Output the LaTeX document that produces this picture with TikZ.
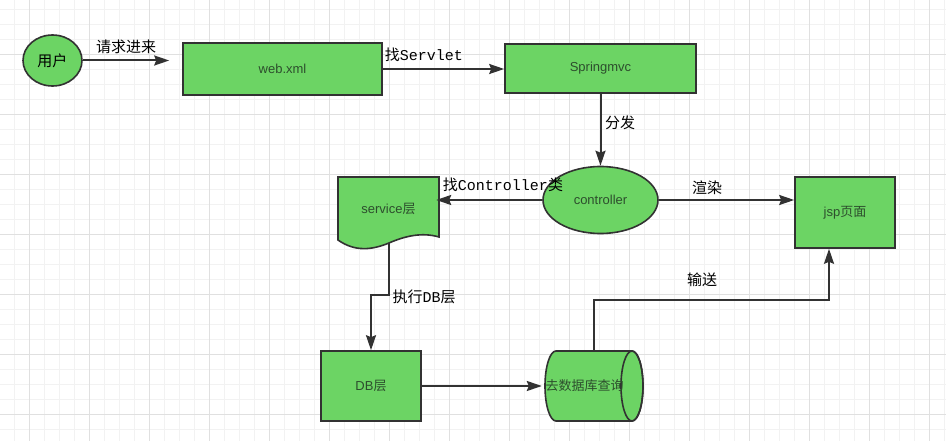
\documentclass[tikz,border=0pt]{standalone}
\usepackage{fontspec}
\setmainfont{Liberation Sans}
\setmonofont{Liberation Mono}
\newfontfamily\cjk{Noto Sans CJK SC}
\usetikzlibrary{calc,positioning,shapes.geometric,arrows.meta}
\definecolor{boxgreen}{RGB}{108,212,100}
\definecolor{edgegray}{RGB}{50,50,50}
\definecolor{textgreen}{RGB}{45,78,45}

\begin{document}
\begin{tikzpicture}[x=1pt,y=-1pt,
    box/.style={draw=edgegray, fill=boxgreen, line width=1.6pt, text=textgreen,
        font=\fontsize{13}{15}\selectfont, inner sep=0pt},
    oval/.style={box, ellipse},
    flow/.style={draw=edgegray, line width=2pt, -{Stealth[length=15pt,width=10pt,inset=2pt]}},
    lbl/.style={font=\fontsize{15}{17}\selectfont, text=black}]
    \useasboundingbox[fill=white] (0,0) rectangle (946,441);

    % background grid
    \foreach \x in {14,29,...,944} {
        \draw[gray!10, line width=0.8pt] (\x,0) -- (\x,441);
    }
    \foreach \y in {9,24,...,440} {
        \draw[gray!10, line width=0.8pt] (0,\y) -- (946,\y);
    }
    \foreach \x in {29,89,...,929} {
        \draw[gray!24, line width=0.8pt] (\x,0) -- (\x,441);
    }
    \foreach \y in {54,114,...,414} {
        \draw[gray!24, line width=0.8pt] (0,\y) -- (946,\y);
    }

    % Nodes
    \node[oval, minimum width=59pt, minimum height=51pt, text=black,
        font=\fontsize{15}{17}\selectfont] (user) at (52.5,60.5) {\cjk 用户};
    \node[box, minimum width=199pt, minimum height=52pt] (webxml) at (282.5,69) {web.xml};
    \node[box, minimum width=191pt, minimum height=49pt] (spring) at (600.5,68.5) {Springmvc};
    \node[oval, minimum width=115pt, minimum height=67pt] (ctrl) at (600.5,200) {controller};
    \node[box, minimum width=100pt, minimum height=71pt] (jsp) at (845,212.5) {jsp{\cjk 页面}};
    \node[box, minimum width=100pt, minimum height=70pt] (db) at (371,386) {DB{\cjk 层}};

    % service layer (document shape)
    \filldraw[fill=boxgreen, draw=edgegray, line width=1.6pt]
        (338,177) -- (439,177) -- (439,237)
        .. controls (422,232) and (405,236) .. (389,243)
        .. controls (372,250) and (355,252) .. (338,240) -- cycle;
    \node[text=textgreen, font=\fontsize{13}{15}\selectfont,
        minimum width=101pt, minimum height=63pt, inner sep=0pt] (service) at (388.5,208.5) {service{\cjk 层}};
    \coordinate (svcout) at (389,243);

    % database (cylinder)
    \filldraw[fill=boxgreen, draw=edgegray, line width=1.6pt]
        (556,351) -- (632,351) arc[start angle=-90, end angle=90, x radius=11, y radius=35]
        -- (556,421) arc[start angle=90, end angle=270, x radius=11, y radius=35] -- cycle;
    \draw[edgegray, line width=1.6pt] (632,386) ellipse[x radius=11, y radius=35];
    \node[minimum width=98pt, minimum height=70pt, inner sep=0pt] (cyl) at (594,386) {};
    \node[text=textgreen, font=\fontsize{13}{15}\selectfont] (cyltext) at (584.5,386) {\cjk 去数据库查询};

    % Connectors
    \draw[flow, shorten >=13pt] (user.east) -- (user.east -| webxml.west);
    \draw[flow] (webxml.east) -- (webxml.east -| spring.west);
    \draw[flow] (spring.south) -- (ctrl.north);
    \draw[flow, shorten >=-3pt] (ctrl.west) -- (ctrl.west -| service.east);
    \draw[flow] (ctrl.east) -- (ctrl.east -| jsp.west);
    \draw[flow] (svcout) -- ++(0,52) -| (db.north);
    \draw[flow, shorten >=3pt] (db.east) -- (db.east -| cyl.west);
    \draw[flow] (cyl.north) -- ++(0,-51) -| ([xshift=-16pt]jsp.south);

    % Labels
    \node[lbl] (l1) at (126,47) {\cjk 请求进来};
    \node[lbl] (l2) at (424,55) {{\cjk 找}\texttt{Servlet}};
    \node[lbl] (l3) at (620,123) {\cjk 分发};
    \node[lbl] (l4) at (503,185) {{\cjk 找}\texttt{Controller}{\cjk 类}};
    \node[lbl] (l5) at (707,188) {\cjk 渲染};
    \node[lbl] (l6) at (424,297) {{\cjk 执行}\texttt{DB}{\cjk 层}};
    \node[lbl] (l7) at (702,280) {\cjk 输送};
\end{tikzpicture}
\end{document}
